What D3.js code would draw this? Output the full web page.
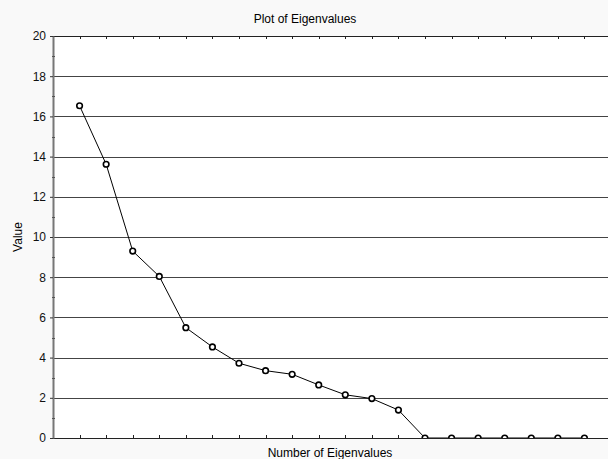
<!DOCTYPE html>
<html>
<head>
<meta charset="utf-8">
<script src="https://cdn.jsdelivr.net/npm/d3@7"></script>
<style>
  body { margin: 0; background: #f9f9f9; }
  svg { display: block; font-family: "Liberation Sans", Arial, sans-serif; }
</style>
</head>
<body>
<div id="chart"></div>
<script>
// eigenvalue number (1..20) and value
var eigenNumbers = d3.range(1, 21);
var eigenValues = [16.53, 13.62, 9.30, 8.04, 5.49, 4.53, 3.72, 3.35, 3.17, 2.64,
                   2.15, 1.96, 1.39, 0, 0, 0, 0, 0, 0, 0];
var yTicks = [0, 2, 4, 6, 8, 10, 12, 14, 16, 18, 20];

var W = 608, H = 459;
var margin = {top: 36, right: -3, bottom: 21, left: 53},
    width = W - margin.left - margin.right,
    height = H - margin.top - margin.bottom;

var data = eigenNumbers.map(function(n, i) { return {n: n, v: eigenValues[i]}; });

var svg = d3.select("#chart").append("svg")
    .attr("width", W)
    .attr("height", H)
    .style("background-color", "#f9f9f9");

var g = svg.append("g")
    .attr("transform", "translate(" + margin.left + "," + margin.top + ")");

// scales
var x = d3.scaleLinear().domain([0, 21]).range([0, width]);
var y = d3.scaleLinear().domain([0, 20]).range([height, 0]);

// plot background
g.append("rect")
    .attr("width", width)
    .attr("height", height)
    .attr("fill", "#fff");

g.append("clipPath").attr("id", "clip")
  .append("rect").attr("width", width).attr("height", height);

// horizontal grid lines
g.append("g")
    .selectAll("line")
    .data(yTicks.filter(function(d) { return d > 0 && d < 20; }))
    .enter().append("line")
    .attr("x1", 0).attr("x2", width)
    .attr("y1", function(d) { return Math.round(y(d)) + 0.5; })
    .attr("y2", function(d) { return Math.round(y(d)) + 0.5; })
    .attr("stroke", "#444")
    .attr("stroke-width", 1);

// top and bottom frame lines
[0, 20].forEach(function(v) {
  g.append("line")
      .attr("x1", 0).attr("x2", width)
      .attr("y1", Math.round(y(v)) + 0.5).attr("y2", Math.round(y(v)) + 0.5)
      .attr("stroke", "#222");
});

// x ticks: bottom ticks point up, top ticks point down
var xt = g.append("g");
eigenNumbers.forEach(function(n) {
  var px = Math.round(x(n)) + 0.5;
  xt.append("line").attr("x1", px).attr("x2", px)
      .attr("y1", height).attr("y2", height - 3).attr("stroke", "#222");
  xt.append("line").attr("x1", px).attr("x2", px)
      .attr("y1", 0).attr("y2", 3).attr("stroke", "#222");
});

// y axis
var yAxis = g.append("g")
    .call(d3.axisLeft(y).tickValues(yTicks).tickSize(3).tickSizeOuter(0).tickPadding(4));
yAxis.select(".domain").attr("stroke", "#777").attr("stroke-width", 2);
yAxis.selectAll(".tick line").attr("stroke", "#333");
yAxis.selectAll("text").style("font-size", "12px").attr("fill", "#111");

// minor y ticks
g.append("g")
    .selectAll("line")
    .data(d3.range(1, 20, 2))
    .enter().append("line")
    .attr("x1", -1).attr("x2", 2)
    .attr("y1", function(d) { return Math.round(y(d)) + 0.5; })
    .attr("y2", function(d) { return Math.round(y(d)) + 0.5; })
    .attr("stroke", "#555");

// line and points
var plot = g.append("g").attr("clip-path", "url(#clip)");

plot.append("path")
    .datum(data)
    .attr("fill", "none")
    .attr("stroke", "#000")
    .attr("stroke-width", 1)
    .attr("d", d3.line()
      .x(function(d) { return x(d.n); })
      .y(function(d) { return y(d.v); }));

plot.selectAll("circle")
    .data(data)
    .enter().append("circle")
    .attr("cx", function(d) { return x(d.n); })
    .attr("cy", function(d) { return y(d.v); })
    .attr("r", 2.8)
    .attr("fill", "#fff")
    .attr("stroke", "#000")
    .attr("stroke-width", 1.6);

// titles
svg.append("text")
    .attr("x", 305)
    .attr("y", 23)
    .attr("text-anchor", "middle")
    .style("font-size", "12px")
    .text("Plot of Eigenvalues");

svg.append("text")
    .attr("x", 330)
    .attr("y", 457)
    .attr("text-anchor", "middle")
    .style("font-size", "12px")
    .text("Number of Eigenvalues");

svg.append("text")
    .attr("transform", "translate(22," + (margin.top + height / 2) + ") rotate(-90)")
    .attr("text-anchor", "middle")
    .style("font-size", "12px")
    .text("Value");
</script>
</body>
</html>
